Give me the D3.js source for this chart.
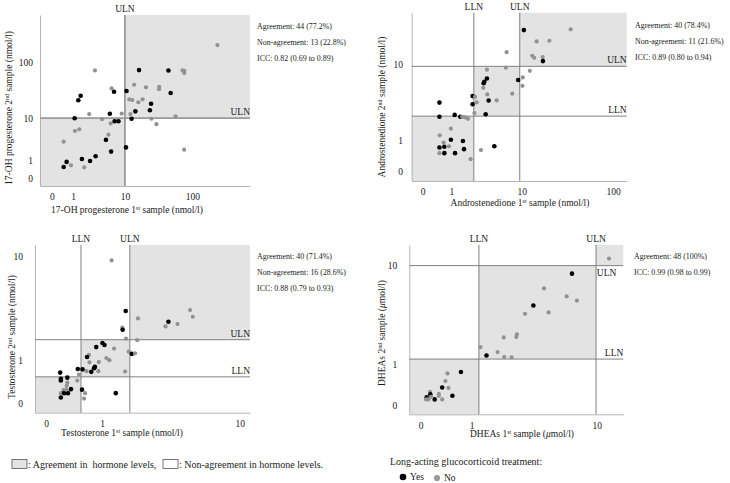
<!DOCTYPE html>
<html>
<head>
<meta charset="utf-8">
<script src="https://cdnjs.cloudflare.com/ajax/libs/d3/7.8.5/d3.min.js"></script>
<style>
body { margin: 0; background: #fff; }
svg text { font-family: "Liberation Serif", "Times New Roman", "DejaVu Serif", serif; fill: #1a1a1a; }
</style>
</head>
<body>
<svg id="chart" width="730" height="483"></svg>
<script>
// 17-OH progesterone (nmol/l), 1 = long-acting glucocorticoid
var ohpFirst = [229, 3.11, 16.5, 45, 72, 76.5, 76.5, 6.1, 6.7, 10.6, 13.9, 21, 33, 32.8, 48.5, 1.57, 1.38, 11.7, 13, 18.7, 16.1, 25, 2.4, 5.7, 8.9, 12.2, 14.5, 24, 1.11, 4.2, 12.7, 6.85, 7.9, 5.9, 25.3, 57, 30, 1.13, 1.46, 5.4, 4.9, 0.47, 10.4, 76, 6.0, 3.2, 1.68, 2.5, 0.62, 0.47, 0.87, 1.89];
var ohpSecond = [203, 73, 74, 73, 73, 72, 65.7, 35, 30.5, 31.5, 40.7, 36.7, 37.5, 34, 29, 25.9, 21.4, 22.3, 21.6, 22.3, 19.7, 18.5, 11.9, 12.1, 12.1, 11.9, 13.4, 14, 9.9, 9.5, 9.7, 8.7, 8.7, 7.9, 9.7, 10.8, 7.6, 5.55, 6.0, 4.65, 3.6, 3.27, 2.4, 2.1, 1.87, 1.38, 1.14, 0.97, 0.9, 0.55, 0.66, 0.53];
var ohpTreated = [0,0,1,1,0,0,0, 0,1,1,0,0,0,0,1, 1,1, 0,0,0,0,1, 0,1,0,0,1,1, 1,0,1,1,1,0,0,0,0, 0,0,0,1,0,1,0,1,1,1,1,1,1,0,0];

// androstenedione (nmol/l)
var andFirst = [10.6, 35, 14.8, 20.5, 6.64, 13.2, 13.9, 17.3, 17.4, 6.5, 12.4, 3.74, 3.74, 3.45, 3.38, 9.1, 10.3, 3.34, 10.2, 7.76, 2.35, 2.55, 3.78, 3.94, 5.0, 2.7, 2.35, 0.5, 2.5, 3.6, 0.5, 1.17, 1.49, 1.6, 1.79, 2.0, 0.98, 0.51, 0.98, 1.65, 0.66, 0.5, 0.69, 0.89, 1.72, 3.1, 4.67, 0.5, 0.69, 1.19, 2.19];
var andSecond = [22.6, 23, 17.3, 17.6, 13.4, 12.3, 11.7, 11.9, 10.8, 9.2, 8.5, 8.75, 7.0, 6.45, 6.2, 6.75, 7.2, 5.5, 5.8, 4.7, 4.4, 4.3, 4.6, 3.9, 3.9, 3.7, 3.5, 3.67, 2.7, 2.6, 2.4, 2.55, 2.4, 2.4, 2.35, 2.25, 1.61, 1.25, 1.04, 0.98, 0.91, 0.71, 0.74, 0.76, 0.65, 0.62, 0.76, 0.51, 0.51, 0.51, 0.32];
var andTreated = [1,0,0,0,0,0,0,0,1,0, 0,0,1,1,1,1,0,0,0,0, 1,0,0,1,0,0,1,1,0,1, 1,1,1,0,0,0,0,0,1,1, 0,1,1,0,1,0,1,0,1,1, 0];

// testosterone (nmol/l)
var tesFirst = [1.25, 1.68, 2.12, 4.95, 5.15, 3.55, 4.09, 3.39, 1.57, 1.58, 1.69, 2.09, 1.01, 1.06, 0.86, 1.32, 0.7, 0.66, 1.78, 1.89, 2.01, 1.11, 1.19, 0.71, 0.83, 0.81, 0.92, 0.75, 0.65, 0.91, 1.66, 0.48, 0.57, 0.19, 0.2, 0.2, 0.3, 0.5, 0.47, 0.3, 0.29, 0.36, 0.24, 0.56, 1.37, 0.2, 0.25, 0.31, 0.2, 0.62, 0.6, 0.28];
var tesSecond = [9.26, 3.5, 2.99, 3.57, 3.1, 2.78, 2.64, 2.5, 2.43, 2.32, 1.87, 1.8, 1.67, 1.59, 1.5, 1.44, 1.2, 1.13, 1.32, 1.24, 1.26, 1.09, 1.02, 0.95, 0.81, 0.77, 0.96, 0.67, 0.69, 0.69, 0.68, 0.75, 0.74, 0.65, 0.49, 0.45, 0.52, 0.6, 0.45, 0.4, 0.33, 0.26, 0.24, 0.25, 0.18, 0.18, 0.18, 0.18, 0.1, 0.18, 0.08, 0.25];
var tesTreated = [0,1,0,0,0,1,0,0,0,1, 0,0,1,1,1,0,0,1,0,1, 0,0,0,0,1,1,0,1,0,0, 0,1,1,1,1,1,1,0,0,0, 0,1,0,1,1,0,1,1,1,0, 0,0];

// DHEAs (umol/l)
var dheFirst = [12.0, 6.85, 4.37, 6.3, 7.4, 3.64, 4.71, 3.14, 2.71, 2.68, 2.1, 1.26, 1.45, 1.85, 2.12, 2.45, 0.73, 0.44, 0.4, 0.34, 0.46, 0.135, 0.54, 0.28, 0.28, 0.14, 0.085, 0.075, 0.11, 0.21, 0.34, 0.15];
var dheSecond = [11.3, 8.5, 6.39, 5.44, 5.0, 4.52, 3.9, 3.79, 2.37, 2.22, 2.2, 1.71, 1.35, 1.49, 1.29, 1.28, 0.77, 0.73, 0.52, 0.36, 0.35, 0.26, 0.18, 0.22, 0.18, 0.21, 0.15, 0.11, 0.11, 0.11, 0.11, 0.16];
var dheTreated = [0,1,0,0,0,1,0,0,0,0, 0,0,1,0,0,0,1,0,0,1, 0,0,1,0,0,1,1,0,0,1, 0,0];

var ticks3 = [0, 1, 10, 100];
var ticks2 = [0, 1, 10];

var ohpStats = ["Agreement: 44 (77.2%)", "Non-agreement: 13 (22.8%)", "ICC: 0.82 (0.69 to 0.89)"];
var andStats = ["Agreement: 40 (78.4%)", "Non-agreement: 11 (21.6%)", "ICC: 0.89 (0.80 to 0.94)"];
var tesStats = ["Agreement: 40 (71.4%)", "Non-agreement: 16 (28.6%)", "ICC: 0.88 (0.79 to 0.93)"];
var dheStats = ["Agreement: 48 (100%)", "ICC: 0.99 (0.98 to 0.99)"];

var svg = d3.select("#chart");
svg.append("rect").attr("width", 730).attr("height", 483).attr("fill", "#fff");

function addTitle(g, parts) {
    parts.forEach(function(p) {
        var t = g.append("tspan").text(p.t);
        if (p.sup) t.attr("font-size", 6).attr("dy", -3.5);
        if (p.after) t.attr("dy", 3.5);
        if (p.it) t.attr("font-style", "italic");
    });
}

function drawPanel(p) {
    var g = svg.append("g");
    var x = d3.scaleSymlog().constant(1).domain(p.xDomain).range([p.left, p.right]);
    var y = d3.scaleSymlog().constant(1).domain(p.yDomain).range([p.bottom, p.top]);

    // agreement zones along the diagonal
    var cuts = p.lln ? [p.lln, p.uln] : [p.uln];
    var xc = [p.xDomain[0]].concat(cuts, [p.xDomain[1]]);
    var yc = [p.yDomain[0]].concat(cuts, [p.yDomain[1]]);
    for (var i = 0; i < xc.length - 1; i++) {
        g.append("rect")
            .attr("x", x(xc[i]))
            .attr("y", y(yc[i + 1]))
            .attr("width", x(xc[i + 1]) - x(xc[i]))
            .attr("height", y(yc[i]) - y(yc[i + 1]))
            .attr("fill", "#e3e3e3");
    }

    var xAxis = g.append("g")
        .attr("transform", "translate(0," + p.bottom + ")")
        .call(d3.axisBottom(x).tickValues(p.xTicks).tickFormat(d3.format("d")).tickSize(0).tickSizeOuter(0).tickPadding(7.5));
    var yAxis = g.append("g")
        .attr("transform", "translate(" + p.left + ",0)")
        .call(d3.axisLeft(y).tickValues(p.yTicks).tickFormat(d3.format("d")).tickSize(0).tickSizeOuter(0).tickPadding(p.yPad));
    [xAxis, yAxis].forEach(function(a) {
        a.attr("font-family", null);
        a.select(".domain").attr("stroke", "#b5b5b5");
        a.selectAll("text").attr("font-size", 9.5).attr("fill", "#1a1a1a");
    });

    // reference lines
    var refs = p.lln ? [["LLN", p.lln], ["ULN", p.uln]] : [["ULN", p.uln]];
    refs.forEach(function(r) {
        g.append("line")
            .attr("x1", x(r[1])).attr("x2", x(r[1]))
            .attr("y1", p.top).attr("y2", p.bottom)
            .attr("stroke", p.lineColor).attr("stroke-width", p.lineWidth);
        g.append("line")
            .attr("x1", p.left).attr("x2", p.right)
            .attr("y1", y(r[1])).attr("y2", y(r[1]))
            .attr("stroke", p.lineColor).attr("stroke-width", p.lineWidth);
        g.append("text")
            .text(r[0])
            .attr("x", x(r[1]))
            .attr("y", p.top - 3)
            .attr("text-anchor", "middle")
            .style("font-size", "9.5px");
        var below = p.below && p.below[r[0]];
        g.append("text")
            .text(r[0])
            .attr("x", below ? p.right - 7 : p.right)
            .attr("y", below ? y(r[1]) + 10.5 : y(r[1]) - 3)
            .attr("text-anchor", "end")
            .style("font-size", "9.5px");
    });

    // points
    var pts = p.first.map(function(d, i) { return [d, p.second[i], p.treated[i]]; });
    g.selectAll("circle.pt")
        .data(pts)
        .enter().append("circle")
        .attr("class", "pt")
        .attr("cx", function(d) { return x(d[0]); })
        .attr("cy", function(d) { return y(d[1]); })
        .attr("r", function(d) { return d[2] ? 2.3 : 2.1; })
        .attr("fill", function(d) { return d[2] ? "#000" : "#929292"; });

    // axis titles
    var xt = g.append("text")
        .attr("x", p.xTitlePos[0])
        .attr("y", p.xTitlePos[1])
        .attr("text-anchor", "middle")
        .style("font-size", "9.5px");
    addTitle(xt, p.xTitle);
    var yt = g.append("text")
        .attr("transform", "translate(" + p.yTitlePos[0] + "," + p.yTitlePos[1] + ") rotate(-90)")
        .attr("text-anchor", "middle")
        .style("font-size", "9.5px");
    addTitle(yt, p.yTitle);

    // stats, set a little narrow like the original
    p.stats.forEach(function(s, i) {
        g.append("text")
            .text(s)
            .attr("transform", "translate(" + p.statsPos[0] + "," + (p.statsPos[1] + i * 16) + ") scale(0.88,1)")
            .style("font-size", "9px");
    });
}

function title(pre, sup, rest, unit) {
    var parts = [{t: pre}, {t: sup, sup: true}, {t: rest, after: true}];
    if (unit) {
        parts.push({t: unit[0], it: true});
        parts.push({t: unit[1]});
    }
    return parts;
}

drawPanel({
    left: 40, right: 250, top: 15, bottom: 186,
    xDomain: [-0.48, 670], yDomain: [-0.38, 680],
    xTicks: ticks3, yTicks: ticks3, yPad: 7,
    uln: 10, lineColor: "#9a9a9a", lineWidth: 1.8,
    first: ohpFirst, second: ohpSecond, treated: ohpTreated,
    xTitle: title("17-OH progesterone 1", "st", " sample (nmol/l)"),
    yTitle: title("17-OH progesterone 2", "nd", " sample (nmol/l)"),
    xTitlePos: [127, 213], yTitlePos: [12, 108],
    stats: ohpStats, statsPos: [257, 28.5]
});

drawPanel({
    left: 411.7, right: 626.7, top: 12.7, bottom: 181,
    xDomain: [-0.305, 139], yDomain: [-0.234, 33.8],
    xTicks: ticks3, yTicks: ticks2, yPad: 8.7,
    lln: 2.45, uln: 9.5, lineColor: "#808080", lineWidth: 1,
    first: andFirst, second: andSecond, treated: andTreated,
    xTitle: title("Androstenedione 1", "st", " sample (nmol/l)"),
    yTitle: title("Androstenedione 2", "nd", " sample (nmol/l)"),
    xTitlePos: [520, 206], yTitlePos: [385, 107],
    stats: andStats, statsPos: [635, 27.5]
});

drawPanel({
    left: 35, right: 250, top: 245, bottom: 412.7,
    xDomain: [-0.148, 11.5], yDomain: [-0.165, 12.2],
    xTicks: ticks2, yTicks: ticks2, yPad: 12,
    lln: 0.54, uln: 1.82, lineColor: "#808080", lineWidth: 1,
    first: tesFirst, second: tesSecond, treated: tesTreated,
    xTitle: title("Testosterone 1", "st", " sample (nmol/l)"),
    yTitle: title("Testosterone 2", "nd", " sample (nmol/l)"),
    xTitlePos: [122, 436], yTitlePos: [15, 337],
    stats: tesStats, statsPos: [257, 259]
});

drawPanel({
    left: 409.3, right: 623.3, top: 245, bottom: 414.3,
    xDomain: [-0.168, 14.8], yDomain: [-0.162, 14.5],
    xTicks: ticks2, yTicks: ticks2, yPad: 12,
    lln: 1.21, uln: 9.9, lineColor: "#808080", lineWidth: 1,
    below: {ULN: true},
    first: dheFirst, second: dheSecond, treated: dheTreated,
    xTitle: title("DHEAs 1", "st", " sample (", ["\u03bc", "mol/l)"]),
    yTitle: title("DHEAs 2", "nd", " sample (", ["\u03bc", "mol/l)"]),
    xTitlePos: [522, 437], yTitlePos: [385, 333],
    stats: dheStats, statsPos: [634, 259]
});

// legends
var legend = svg.append("g");
legend.append("rect").attr("x", 12).attr("y", 459.5).attr("width", 15).attr("height", 9)
    .attr("fill", "#e3e3e3").attr("stroke", "#555").attr("stroke-width", 0.8);
legend.append("text").text(": Agreement in  hormone levels,")
    .attr("x", 28).attr("y", 468).style("font-size", "10px").style("white-space", "pre");
legend.append("rect").attr("x", 163).attr("y", 459.5).attr("width", 15).attr("height", 9)
    .attr("fill", "#fff").attr("stroke", "#555").attr("stroke-width", 0.8);
legend.append("text").text(": Non-agreement in hormone levels.")
    .attr("x", 179).attr("y", 468).style("font-size", "10px");

legend.append("text").text("Long-acting glucocorticoid treatment:")
    .attr("x", 390).attr("y", 465).style("font-size", "10px");
legend.append("circle").attr("cx", 403).attr("cy", 477).attr("r", 3.3).attr("fill", "#000");
legend.append("text").text("Yes").attr("x", 410).attr("y", 480).style("font-size", "9.5px");
legend.append("circle").attr("cx", 437).attr("cy", 478).attr("r", 3.1).attr("fill", "#999");
legend.append("text").text("No").attr("x", 444).attr("y", 481).style("font-size", "9.5px");
</script>
</body>
</html>
